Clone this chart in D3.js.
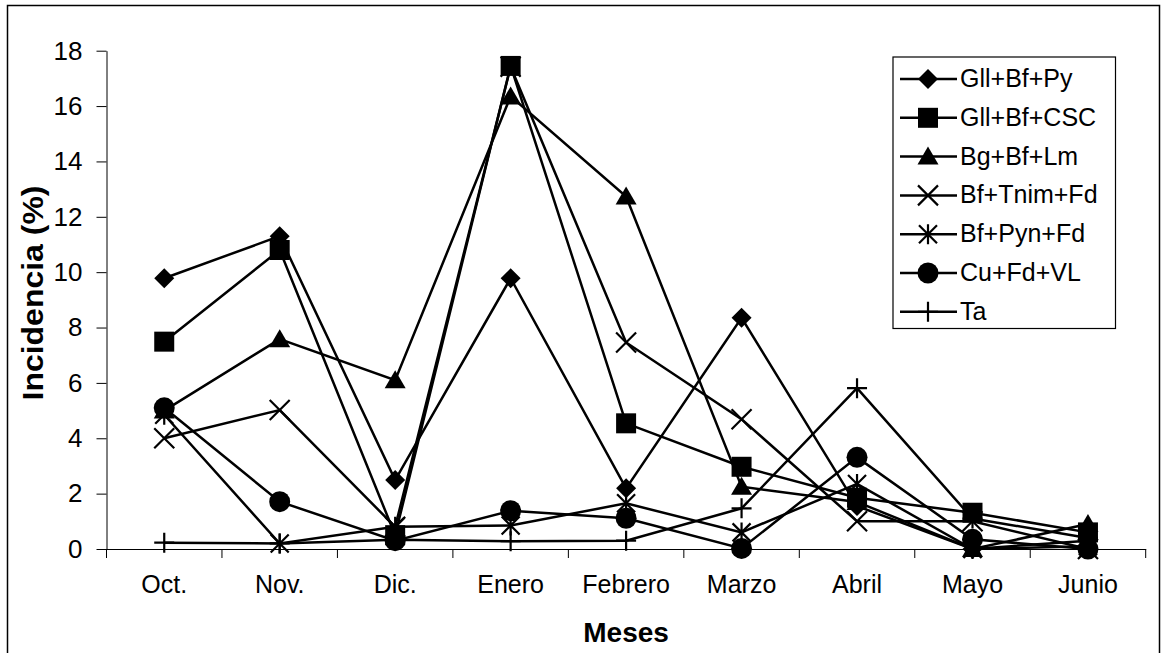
<!DOCTYPE html>
<html><head><meta charset="utf-8">
<script src="https://cdn.jsdelivr.net/npm/d3@7"></script>
<style>body{margin:0;background:#fff}svg{display:block}text{font-family:"Liberation Sans",Arial,sans-serif}</style>
</head><body><svg id="c" width="1162" height="653"></svg>
<script>
const months = ["Oct.","Nov.","Dic.","Enero","Febrero","Marzo","Abril","Mayo","Junio"];
const yTicks = [0,2,4,6,8,10,12,14,16,18];
const seriesNames = ["Gll+Bf+Py","Gll+Bf+CSC","Bg+Bf+Lm","Bf+Tnim+Fd","Bf+Pyn+Fd","Cu+Fd+VL","Ta"];
const markerTypes = ["diamond","square","triangle","x","star","circle","plus"];
const gllBfPy   = [9.78,11.3,2.49,9.78,2.19,8.35,1.55,0.0,0.3];
const gllBfCSC  = [7.49,10.8,0.5,17.45,4.54,2.97,1.85,1.31,0.6];
const bgBfLm    = [5.0,7.58,6.1,16.35,12.73,2.25,1.7,0.0,0.9];
const bfTnimFd  = [4.0,5.02,0.8,17.42,7.46,4.69,1.0,1.0,0.0];
const bfPynFd   = [4.85,0.2,0.8,0.85,1.65,0.6,2.35,0.0,0.1];
const cuFdVL    = [5.1,1.71,0.3,1.38,1.11,0.02,3.31,0.35,0.0];
const ta        = [0.23,0.2,0.33,0.28,0.3,1.47,5.81,1.1,0.4];
const allSeries = [gllBfPy,gllBfCSC,bgBfLm,bfTnimFd,bfPynFd,cuFdVL,ta];

const svg = d3.select("#c");
const L = 106.5, R = 1145.7, T = 50.7, B = 549;
const x = d3.scaleBand().domain(months).range([L,R]).padding(0);
const y = d3.scaleLinear().domain([0,18]).range([B,T]);
const cx = m => x(m) + x.bandwidth()/2;

// outer border
svg.append("rect").attr("x",7.5).attr("y",5.5).attr("width",1152).attr("height",660)
  .attr("fill","none").attr("stroke","#000").attr("stroke-width",1.5);

// y axis
const yAx = svg.append("g").attr("transform",`translate(${L},0)`)
  .call(d3.axisLeft(y).tickValues(yTicks).tickSize(10).tickPadding(14).tickSizeOuter(0));
yAx.select(".domain").attr("stroke","#000");
yAx.selectAll("line").attr("stroke","#000");
yAx.selectAll("text").attr("font-size",26).attr("fill","#000");

// x axis
const xAx = svg.append("g").attr("transform",`translate(0,${B})`)
  .call(d3.axisBottom(x).tickSize(0).tickPadding(26).tickSizeOuter(0));
xAx.select(".domain").attr("stroke","#000");
xAx.selectAll("text").attr("font-size",25).attr("fill","#000");
const bounds = months.map(m => x(m)).concat([x(months[months.length-1]) + x.bandwidth()]);
xAx.selectAll(".tk").data(bounds).enter().append("line").attr("class","tk")
  .attr("x1",d=>d).attr("x2",d=>d).attr("y1",0).attr("y2",9).attr("stroke","#000");

// axis titles
svg.append("text").attr("x",(L+R)/2).attr("y",642).attr("text-anchor","middle")
  .attr("font-size",28).attr("font-weight","bold").text("Meses");
svg.append("text").attr("transform",`translate(43,293) rotate(-90)`).attr("text-anchor","middle")
  .attr("font-size",29).attr("font-weight","bold")
  .attr("textLength",215).attr("lengthAdjust","spacingAndGlyphs").text("Incidencia (%)");

function markerPath(type){
  switch(type){
    case "diamond": return "M0,-10L10,0L0,10L-10,0Z";
    case "square": return "M-10,-10H10V10H-10Z";
    case "triangle": return "M0,-10L10.5,8L-10.5,8Z";
    case "circle": return d3.symbol().type(d3.symbolCircle).size(Math.PI*10.5*10.5)();
    case "x": return "M-10,-10L10,10M-10,10L10,-10";
    case "star": return "M-9,-9L9,9M-9,9L9,-9M0,-10V10";
    case "plus": return "M-10,0H10M0,-10V10";
  }
}
const filled = t => ["diamond","square","triangle","circle"].includes(t);

const line = d3.line().x((d,i)=>cx(months[i])).y(d=>y(d));
allSeries.forEach((vals,si)=>{
  const g = svg.append("g");
  g.append("path").attr("d",line(vals)).attr("fill","none").attr("stroke","#000").attr("stroke-width",2.5);
  const t = markerTypes[si];
  g.selectAll("path.m").data(vals).enter().append("path").attr("class","m")
    .attr("transform",(d,i)=>`translate(${cx(months[i])},${y(d)})`)
    .attr("d",markerPath(t))
    .attr("fill",filled(t)?"#000":"none")
    .attr("stroke","#000").attr("stroke-width",filled(t)?0:2.2);
});

// legend
const lg = svg.append("g");
lg.append("rect").attr("x",893).attr("y",57).attr("width",222.5).attr("height",271.5)
  .attr("fill","#fff").attr("stroke","#000").attr("stroke-width",1.2);
seriesNames.forEach((n,i)=>{
  const yy = 79 + i*38.8;
  lg.append("line").attr("x1",900).attr("x2",957).attr("y1",yy).attr("y2",yy).attr("stroke","#000").attr("stroke-width",2.5);
  const t = markerTypes[i];
  lg.append("path").attr("transform",`translate(928,${yy})`).attr("d",markerPath(t))
    .attr("fill",filled(t)?"#000":"none").attr("stroke","#000").attr("stroke-width",filled(t)?0:2.2);
  lg.append("text").attr("x",960).attr("y",yy+8).attr("font-size",25).text(n);
});
</script></body></html>
